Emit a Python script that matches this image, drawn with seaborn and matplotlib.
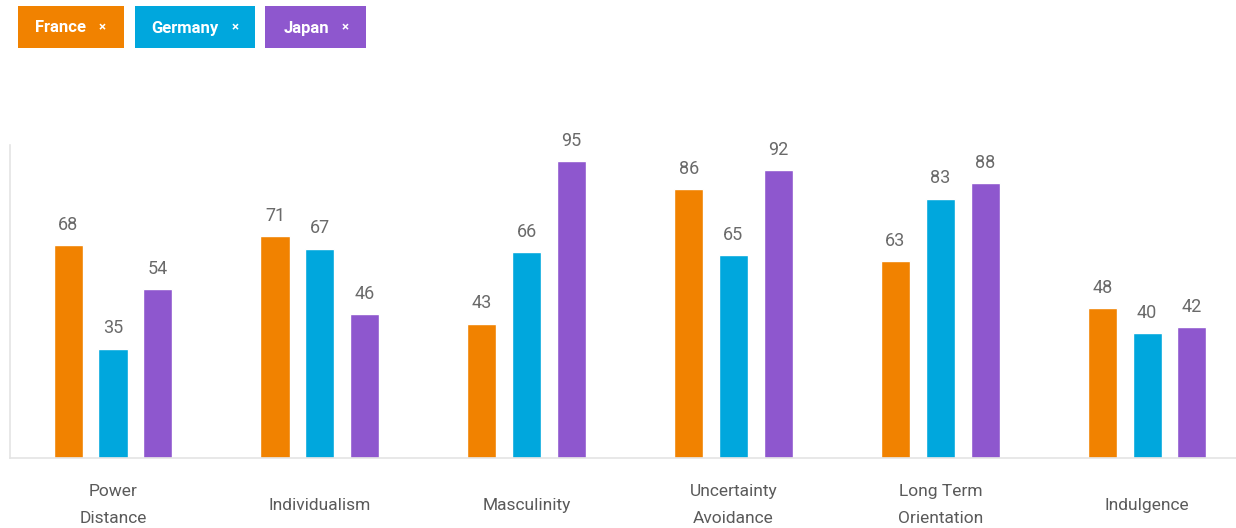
import matplotlib
matplotlib.use("Agg")
import matplotlib.pyplot as plt
from matplotlib.patches import Rectangle
import pandas as pd
import seaborn as sns

dimensions = ["Power\nDistance", "Individualism", "Masculinity",
              "Uncertainty\nAvoidance", "Long Term\nOrientation", "Indulgence"]
countries = ["France", "Germany", "Japan"]
france = [68, 71, 43, 86, 63, 48]
germany = [35, 67, 66, 65, 83, 40]
japan = [54, 46, 95, 92, 88, 42]
colors = ["#F18200", "#00A7DD", "#8E57CE"]

df = pd.DataFrame({
    "dimension": dimensions * 3,
    "country": [c for c in countries for _ in dimensions],
    "score": france + germany + japan,
})

sns.set_theme(style="white")
plt.rcParams["font.family"] = ["Roboto", "DejaVu Sans"]

W, H = 1236, 528
fig = plt.figure(figsize=(W / 100, H / 100), dpi=100)
ax = fig.add_axes([10 / W, (H - 458) / H, (W - 10) / W, (458 - 145.4) / H])

sns.barplot(data=df, x="dimension", y="score", hue="country",
            palette=colors, width=0.65, gap=0.35, saturation=1,
            legend=False, ax=ax)

ax.set_ylim(0, 100)
ax.set_xlim(-0.498, 5.43)
ax.set_xlabel("")
ax.set_ylabel("")
ax.set_yticks([])
ax.tick_params(axis="x", length=0, pad=34, labelsize=12.5, labelcolor="#5a5a5a")
for lbl in ax.get_xticklabels():
    lbl.set_verticalalignment("center")
    lbl.set_linespacing(2.0)

for side in ["top", "right"]:
    ax.spines[side].set_visible(False)
for side in ["left", "bottom"]:
    ax.spines[side].set_color("#E4E4E4")
    ax.spines[side].set_linewidth(1.2)

for cont in ax.containers:
    ax.bar_label(cont, fmt="%d", padding=8, fontsize=13, color="#6a6a6a")

# legend chips
chips = [(18, 124, 61, 102), (135, 255, 185, 235), (265, 366, 306, 345)]
for (x0, x1, tx, xx), name, col in zip(chips, countries, colors):
    fig.add_artist(Rectangle((x0 / W, (H - 48) / H), (x1 - x0) / W, 42 / H,
                             transform=fig.transFigure, facecolor=col,
                             edgecolor="none"))
    fig.text(tx / W, (H - 28) / H, name, color="white", fontsize=12,
             fontweight="bold", ha="center", va="center")
    fig.text(xx / W, (H - 28) / H, "×", color="white", fontsize=9.5,
             fontweight="bold", ha="center", va="center")

fig.savefig("out.png", dpi=100)
